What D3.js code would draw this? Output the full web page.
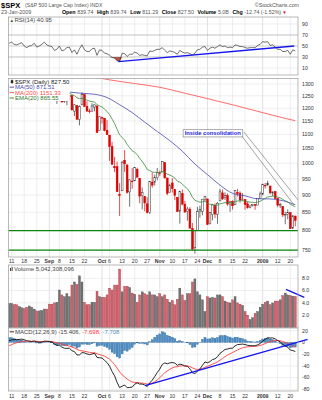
<!DOCTYPE html>
<html>
<head>
<meta charset="utf-8">
<script src="https://cdn.jsdelivr.net/npm/d3@7"></script>
<style>
  body { margin: 0; background: #fff; }
  svg { display: block; font-family: "Liberation Sans", Arial, sans-serif; }
</style>
</head>
<body>
<div id="chart"></div>
<script>
// $SPX daily, 8-Aug-2008 .. 22-Jan-2009, one entry per trading day
const opens = [1266.29,1294.42,1304.79,1288.64,1282.11,1293.85,1298.14,1276.65,1267.34,1271.07,
  1277.59,1290.47,1267.03,1271.29,1283.79,1296.49,1287.83,1276.61,1271.80,1233.21,
  1249.50,1267.98,1227.50,1229.04,1245.88,1250.92,1188.31,1210.34,1157.08,1213.11,
  1255.37,1207.61,1188.79,1187.87,1204.47,1209.07,1113.78,1164.17,1160.64,1115.16,
  1097.56,1057.60,988.91,988.42,902.31,912.75,1009.97,994.60,909.53,942.29,
  943.51,980.40,951.67,899.08,895.22,874.28,848.92,939.51,939.38,953.11,
  968.67,971.31,1001.84,952.40,907.44,936.75,917.15,893.39,853.13,904.36,
  873.23,852.34,859.03,805.87,755.84,801.20,853.40,852.90,886.89,888.61,
  817.94,843.60,869.75,844.43,882.71,906.48,892.17,898.35,871.79,881.07,
  871.53,908.16,905.98,886.96,887.20,874.31,863.87,869.51,872.37,870.58,
  890.59,902.99,929.17,931.17,927.45,905.73,909.91,890.40,869.79,867.28,
  841.99,844.45,849.64,806.77,839.74];
const highs = [1297.85,1313.15,1304.79,1294.03,1300.11,1302.05,1300.22,1276.65,1276.01,1281.40,
  1293.09,1290.47,1275.65,1289.59,1300.68,1297.59,1303.04,1280.60,1271.80,1244.94,
  1274.42,1268.66,1243.90,1249.98,1255.09,1250.92,1214.84,1210.34,1211.14,1265.12,
  1255.37,1227.51,1197.41,1220.03,1215.77,1209.07,1168.03,1167.03,1160.64,1153.82,
  1097.56,1072.91,1021.06,1005.25,936.36,1006.93,1044.31,994.60,947.71,984.64,
  985.40,985.44,951.67,922.83,896.30,893.78,940.51,969.97,963.23,984.38,
  975.57,1007.51,1001.84,952.40,931.46,951.95,917.15,893.39,913.01,916.88,
  882.29,865.90,864.57,820.52,801.20,865.60,868.94,887.68,896.25,888.61,
  850.54,873.12,875.60,879.42,918.57,916.26,908.27,904.63,883.24,884.63,
  914.66,918.85,911.02,905.47,887.37,880.44,869.79,873.74,873.70,891.12,
  910.32,934.73,936.63,943.85,927.45,910.00,911.93,890.40,877.02,867.28,
  851.59,858.13,849.64,841.72,839.74];
const lows = [1262.11,1291.41,1285.64,1274.86,1276.84,1290.74,1274.51,1263.11,1261.16,1265.22,
  1277.59,1264.87,1263.21,1270.36,1283.79,1282.74,1272.20,1265.59,1232.83,1217.23,
  1247.12,1224.51,1221.60,1211.54,1233.81,1192.70,1169.28,1155.88,1133.50,1213.11,
  1205.61,1187.80,1179.79,1187.87,1187.54,1106.39,1113.78,1140.77,1111.43,1098.14,
  1007.97,996.23,970.97,909.19,839.80,912.75,972.07,903.99,865.83,918.74,
  943.51,952.47,875.81,858.44,852.85,846.75,845.27,922.26,928.50,944.59,
  958.82,971.31,949.86,899.73,906.90,907.47,884.90,850.48,818.69,869.88,
  848.98,826.84,806.18,747.78,741.02,801.20,834.99,841.37,881.21,815.69,
  817.94,827.60,833.60,818.41,882.71,885.38,885.45,868.73,851.35,857.72,
  871.53,895.94,877.44,883.02,857.09,860.10,861.44,866.52,857.07,870.58,
  889.67,899.35,919.53,927.28,902.37,896.81,888.31,864.32,862.02,836.93,
  817.04,830.66,804.47,804.30,811.29];
const closes = [1296.32,1305.32,1289.59,1285.83,1292.93,1298.20,1278.60,1266.69,1274.54,1277.72,
  1292.20,1266.84,1271.51,1281.66,1300.68,1282.83,1277.58,1274.98,1236.83,1242.31,
  1267.79,1224.51,1232.04,1249.05,1251.70,1192.70,1213.60,1156.39,1206.51,1255.08,
  1207.09,1188.22,1185.87,1209.18,1213.27,1106.39,1166.36,1161.06,1114.28,1099.23,
  1056.89,996.23,984.94,909.92,899.22,1003.35,998.01,907.84,946.43,940.55,
  985.40,955.05,896.78,908.11,876.77,848.92,940.51,930.09,954.09,968.75,
  966.30,1005.75,952.77,904.88,930.99,919.21,898.95,852.30,911.29,873.29,
  850.75,859.12,806.58,752.44,800.03,851.81,857.39,887.68,896.24,816.21,
  848.81,870.74,845.22,876.07,909.70,888.67,899.24,873.59,879.73,868.57,
  913.18,904.42,885.28,887.88,871.63,863.16,868.15,872.80,869.42,890.64,
  903.25,931.80,927.45,934.70,906.65,909.73,890.35,870.26,871.79,842.62,
  843.74,850.12,805.22,840.24,827.50];
// billions
const volumes = [3.9,3.9,3.7,3.7,3.4,3.2,3.1,3.3,3.5,3.3,
  3.0,2.7,2.7,2.8,3.0,3.0,3.8,3.8,4.0,4.1,
  6.1,5.3,5.0,5.5,5.0,6.9,7.4,7.0,8.4,7.4,
  4.1,3.7,3.7,4.1,4.1,5.9,5.0,4.9,4.9,5.3,
  6.4,6.1,6.9,6.9,9.5,5.8,6.7,6.7,6.5,5.6,
  5.4,4.1,5.3,5.8,5.5,5.3,5.8,5.3,5.3,5.0,
  5.5,5.0,5.3,4.6,4.1,4.4,3.7,4.6,6.4,5.3,
  4.4,5.5,5.5,7.4,7.9,5.8,5.3,4.5,2.6,5.0,
  4.8,4.9,4.8,5.3,5.3,5.0,4.3,4.1,4.0,4.5,
  5.0,4.0,3.8,3.6,2.6,2.0,1.3,1.6,2.3,2.6,
  3.3,3.8,4.1,4.3,3.7,4.0,4.3,4.3,4.5,5.2,
  5.6,5.3,5.2,5.1,5.04];
const rsi14 = [55,57,53,52,54,56,50,47,50,51,
  55,48,50,53,57,52,50,49,42,44,
  50,41,43,47,48,38,43,35,45,52,
  43,40,40,45,46,33,43,42,37,36,
  33,29,28,23,22,37,36,31,35,35,
  39,37,33,34,33,32,41,40,42,44,
  44,47,42,38,41,40,38,35,42,39,
  37,38,36,33.5,37,43,44,48,49,42,
  46,48,46,49,52,49,50,47,48,47,
  52,51,49,49,47,46,47,47,47,51,
  53,58,57,58,51,52,48,44,44,40,
  40,42,35,43,40.95];
const ema20 = [1268.9,1272.4,1274.0,1275.1,1276.8,1278.9,1278.8,1277.7,1277.4,1277.4,
  1278.8,1277.7,1277.1,1277.5,1279.7,1280.0,1279.8,1279.3,1275.3,1272.1,
  1271.7,1267.2,1263.9,1262.5,1261.4,1254.9,1251.0,1242.0,1238.6,1240.2,
  1237.0,1232.4,1227.9,1226.2,1224.9,1213.7,1209.2,1204.6,1196.0,1186.8,
  1174.4,1157.4,1141.0,1119.0,1098.1,1089.1,1080.4,1064.0,1052.8,1042.1,
  1036.7,1028.9,1016.4,1006.0,993.7,980.0,976.2,971.8,970.1,970.0,
  969.6,973.1,971.2,964.8,961.6,957.6,952.0,942.5,939.5,933.2,
  925.4,919.1,908.4,893.5,884.6,881.5,879.2,880.0,881.6,875.3,
  872.8,872.6,870.0,870.6,874.3,875.7,877.9,877.5,877.7,876.8,
  880.3,882.6,882.9,883.3,882.2,880.4,879.2,878.6,877.8,879.0,
  881.3,886.1,890.0,894.3,895.5,896.8,896.2,893.7,891.7,887.0,
  882.9,879.7,872.7,869.6,865.55];
const macdLine = [3.0,4.6,4.9,4.8,5.2,5.8,4.7,2.9,2.1,1.7,
  2.5,1.1,0.4,0.6,2.3,2.2,1.7,1.0,-2.6,-4.9,
  -4.7,-7.9,-9.8,-10.1,-9.8,-14.0,-15.6,-21.2,-21.3,-17.3,
  -17.8,-19.5,-20.8,-19.7,-18.3,-25.5,-26.1,-26.6,-30.5,-34.4,
  -40.4,-49.5,-57.0,-68.2,-77.0,-74.8,-72.6,-77.2,-76.9,-76.2,
  -71.3,-69.0,-71.1,-71.0,-72.6,-75.3,-69.2,-64.5,-58.1,-51.3,
  -45.6,-37.5,-34.9,-36.3,-34.9,-34.3,-35.1,-39.0,-37.0,-38.0,
  -40.1,-40.7,-44.8,-51.9,-53.0,-49.2,-45.2,-39.1,-33.2,-34.6,
  -32.7,-29.1,-28.0,-24.3,-18.5,-15.4,-11.9,-11.2,-9.9,-9.7,
  -5.9,-3.5,-3.2,-2.7,-3.5,-4.8,-5.4,-5.4,-5.6,-4.0,
  -1.7,2.4,5.2,7.9,7.7,7.8,6.1,3.2,1.0,-3.1,
  -6.2,-8.0,-12.9,-13.8,-15.406];
const macdSignal = [-5.5,-3.5,-1.8,-0.5,0.7,1.7,2.3,2.4,2.4,2.2,
  2.3,2.0,1.7,1.5,1.7,1.8,1.8,1.6,0.8,-0.4,
  -1.2,-2.6,-4.0,-5.2,-6.1,-7.7,-9.3,-11.7,-13.6,-14.3,
  -15.0,-15.9,-16.9,-17.5,-17.6,-19.2,-20.6,-21.8,-23.5,-25.7,
  -28.6,-32.8,-37.7,-43.8,-50.4,-55.3,-58.8,-62.4,-65.3,-67.5,
  -68.3,-68.4,-69.0,-69.4,-70.0,-71.1,-70.7,-69.5,-67.2,-64.0,
  -60.3,-55.8,-51.6,-48.5,-45.8,-43.5,-41.8,-41.3,-40.4,-39.9,
  -40.0,-40.1,-41.1,-43.2,-45.2,-46.0,-45.8,-44.5,-42.2,-40.7,
  -39.1,-37.1,-35.3,-33.1,-30.2,-27.2,-24.2,-21.6,-19.2,-17.3,
  -15.0,-12.7,-10.8,-9.2,-8.1,-7.4,-7.0,-6.7,-6.5,-6.0,
  -5.1,-3.6,-1.9,0.1,1.6,2.9,3.5,3.4,3.0,1.7,
  0.2,-1.5,-3.8,-5.8,-7.698];

// slow averages, read at five-day steps
const ma50Day = [0,4,9,14,19,24,29,34,39,44,49,54,59,64,69,74,79,84,89,94,99,104,109,114];
const ma50 = [1292,1290.1,1281.6,1274.9,1268.9,1265.6,1260.4,1256.7,1243.0,1213.8,1182.7,1145.8,
  1110.7,1077.7,1040.5,997.4,963.1,930.0,905.2,897.6,888.9,888.5,883.4,871.51];
const ma200Day = [0,10,20,30,36,40,50,60,70,80,90,100,110,114];
const ma200 = [1372,1365,1356,1342,1326,1318,1302,1286,1261,1236,1211,1185,1160,1151.33];

const tickDays = [1,6,11,16,20,25,30,37,40,45,50,55,60,65,70,75,79,84,89,94,101,107,112];
const tickLabels = ["11","18","25","Sep","8","15","22","Oct","6","13","20","27","Nov","10","17","24","Dec","8","15","22","2009","12","20"];
const monthLabels = ["Sep","Oct","Nov","Dec","2009"];

const rsiTicks = [90,70,50,30,10];
const priceTicks = [1300,1250,1200,1150,1100,1050,1000,950,900,850,800,750];
const volTicks = [8,6,4,2];
const macdTicks = [20,0,-20,-40,-60,-80];

// drawn annotations, in day index / value units
const supportLevels = [800, 750];
const rsiTrend = [[43.5, 21.5], [113.6, 50]];
const volTrend = [[110.3, 6.2], [117.6, 4.9]];
const macdTrend = [[54.1, -73.8], [118.9, 5.5]];
const callout = {day: 69.3, price: 1104, text: "Inside consolidation"};
const calloutPointers = [[[92.35, 1098], [113.5, 870.9]], [[93.55, 1108.9], [115.1, 885.3]]];

const macdHist = macdLine.map((m, i) => m - macdSignal[i]);

const L = 8.5, R = 298;
const red = "#e00000", black = "#333";
const down = i => i > 0 && closes[i] < closes[i - 1];

const svg = d3.select("#chart").append("svg").attr("width", 322).attr("height", 400);

const x = d3.scaleLinear().domain([-0.35, 115.2]).range([8.3, 298.3]);
const yRsi = d3.scaleLinear().domain([10, 90]).range([68, 24]);
const yPrice = d3.scaleLog().domain([750, 1300]).range([250.1, 84]);
const yVol = d3.scaleLinear().domain([0, 8]).range([327.5, 278.3]);
const yMacd = d3.scaleLinear().domain([-80, 20]).range([389.3, 330.8]);

function panel(id, top, bottom, ticks, y, gridColor, fmt) {
  svg.append("rect").attr("x", L).attr("y", top).attr("width", R - L).attr("height", bottom - top).attr("fill", "#fff");
  svg.append("clipPath").attr("id", id).append("rect")
    .attr("x", L).attr("y", top).attr("width", R - L).attr("height", bottom - top);
  let g = svg.append("g");
  g.selectAll("line.v").data(tickDays).enter().append("line").attr("class", "v")
    .attr("x1", d => x(d)).attr("x2", d => x(d)).attr("y1", top).attr("y2", bottom)
    .attr("stroke", (d, i) => monthLabels.includes(tickLabels[i]) ? "#cdcdcd" : "#e3e3e3")
    .attr("stroke-width", 0.6);
  g.selectAll("line.h").data(ticks).enter().append("line").attr("class", "h")
    .attr("x1", L).attr("x2", R).attr("y1", d => y(d)).attr("y2", d => y(d))
    .attr("stroke", gridColor).attr("stroke-width", 0.6);
  svg.append("g").selectAll("text").data(ticks).enter().append("text")
    .attr("x", 302).attr("y", d => y(d)).attr("dy", "0.35em")
    .attr("font-size", 5.2).attr("fill", "#333").text(fmt || (d => d));
  return svg.append("g").attr("clip-path", `url(#${id})`);
}

function border(top, bottom) {
  svg.append("rect").attr("x", L).attr("y", top).attr("width", R - L).attr("height", bottom - top)
    .attr("fill", "none").attr("stroke", "#9a9a9a").attr("stroke-width", 0.7);
}

function trend(pts, y) {
  svg.append("line")
    .attr("x1", x(pts[0][0])).attr("y1", y(pts[0][1]))
    .attr("x2", x(pts[1][0])).attr("y2", y(pts[1][1]))
    .attr("stroke", "#1414f0").attr("stroke-width", 1.3);
}

function dateLabels(yPos) {
  svg.append("g").selectAll("text").data(tickDays).enter().append("text")
    .attr("x", d => x(d)).attr("y", yPos).attr("text-anchor", "middle")
    .attr("font-size", 5.2).attr("fill", "#333")
    .attr("font-weight", (d, i) => monthLabels.includes(tickLabels[i]) ? "bold" : "normal")
    .text((d, i) => tickLabels[i]);
}

// ---- header
svg.append("text").attr("x", 1).attr("y", 7.5).attr("font-size", 7.5).attr("font-weight", "bold").text("$SPX");
svg.append("text").attr("x", 25).attr("y", 7.3).attr("font-size", 5.2).attr("fill", "#555").text("(S&P 500 Large Cap Index) INDX");
svg.append("text").attr("x", 299).attr("y", 6.5).attr("font-size", 5.3).attr("fill", "#555").attr("text-anchor", "end").text("\u00A9StockCharts.com");
svg.append("text").attr("x", 1).attr("y", 14).attr("font-size", 5.4).attr("fill", "#555").text("23-Jan-2009");

let quote = [["Open", "839.74"], ["High", "839.74"], ["Low", "811.29"], ["Close", "827.50"], ["Volume", "5.0B"], ["Chg", "-12.74 (-1.52%)"]];
let qx = 62;
quote.forEach(q => {
  let a = svg.append("text").attr("x", qx).attr("y", 14).attr("font-size", 5.3).attr("font-weight", "bold").text(q[0]);
  qx += a.node().getComputedTextLength() + 1.6;
  let b = svg.append("text").attr("x", qx).attr("y", 14).attr("font-size", 5.3).attr("fill", "#555").text(q[1]);
  qx += b.node().getComputedTextLength() + 3.6;
});
svg.append("text").attr("x", qx - 2.4).attr("y", 14).attr("font-size", 4.5).attr("fill", red).text("\u25BC");

// ---- RSI
let rg = panel("clipRsi", 17, 75, rsiTicks, yRsi, d => (d === 70 || d === 30) ? "#999" : (d === 50 ? "#b0b0b0" : "#e3e3e3"));
rg.append("path").datum(rsi14)
  .attr("d", d3.area().x((d, i) => x(i)).y0(yRsi(30)).y1(d => yRsi(Math.min(d, 30))))
  .attr("fill", "#b0564a");
rg.append("path").datum(rsi14)
  .attr("d", d3.line().x((d, i) => x(i)).y(d => yRsi(d)))
  .attr("fill", "none").attr("stroke", "#333").attr("stroke-width", 0.7);
trend(rsiTrend, yRsi);
border(17, 75);
svg.append("text").attr("x", 9.5).attr("y", 22).attr("font-size", 4.5).attr("fill", "#2d5e2d").text("\u25B2");
svg.append("text").attr("x", 14.5).attr("y", 22).attr("font-size", 6).attr("fill", "#444").text("RSI(14) 40.95");

// ---- price
let pg = panel("clipPrice", 78.5, 257, priceTicks, yPrice, "#e3e3e3");
const bw = 1.8;
pg.selectAll("line.wick").data(closes).enter().append("line").attr("class", "wick")
  .attr("x1", (d, i) => x(i)).attr("x2", (d, i) => x(i))
  .attr("y1", (d, i) => yPrice(highs[i])).attr("y2", (d, i) => yPrice(lows[i]))
  .attr("stroke", (d, i) => down(i) ? red : black).attr("stroke-width", 0.7);
pg.selectAll("rect.body").data(closes).enter().append("rect").attr("class", "body")
  .attr("x", (d, i) => x(i) - bw / 2).attr("width", bw)
  .attr("y", (d, i) => yPrice(Math.max(opens[i], d)))
  .attr("height", (d, i) => Math.max(0.6, Math.abs(yPrice(opens[i]) - yPrice(d))))
  .attr("fill", (d, i) => d < opens[i] ? (down(i) ? red : black) : "#fff")
  .attr("stroke", (d, i) => down(i) ? red : black).attr("stroke-width", 0.5);

pg.append("path").datum(ma200)
  .attr("d", d3.line().x((d, i) => x(ma200Day[i])).y(d => yPrice(d)).curve(d3.curveMonotoneX))
  .attr("fill", "none").attr("stroke", "#ff5b5b").attr("stroke-width", 0.9);
pg.append("path").datum(ma50)
  .attr("d", d3.line().x((d, i) => x(ma50Day[i])).y(d => yPrice(d)).curve(d3.curveMonotoneX))
  .attr("fill", "none").attr("stroke", "#4848b0").attr("stroke-width", 0.8);
pg.append("path").datum(ema20)
  .attr("d", d3.line().x((d, i) => x(i)).y(d => yPrice(d)))
  .attr("fill", "none").attr("stroke", "#3a8a3a").attr("stroke-width", 0.8);

pg.selectAll("line.support").data(supportLevels).enter().append("line").attr("class", "support")
  .attr("x1", L).attr("x2", R).attr("y1", d => yPrice(d)).attr("y2", d => yPrice(d))
  .attr("stroke", "#0a870a").attr("stroke-width", 1.3);

// callout
calloutPointers.forEach(p => {
  svg.append("line")
    .attr("x1", x(p[0][0])).attr("y1", yPrice(p[0][1]))
    .attr("x2", x(p[1][0])).attr("y2", yPrice(p[1][1]))
    .attr("stroke", "#6a6a6a").attr("stroke-width", 0.6);
});
let cg = svg.append("g");
let ct = cg.append("text").attr("x", x(callout.day) + 1.6).attr("y", yPrice(callout.price) + 2)
  .attr("font-size", 5.8).attr("font-weight", "bold").attr("fill", "#2424e0").text(callout.text);
let cb = ct.node().getBBox();
cg.insert("rect", "text").attr("x", cb.x - 1.6).attr("y", cb.y - 0.6)
  .attr("width", cb.width + 3.2).attr("height", cb.height + 1.2)
  .attr("fill", "#fff").attr("stroke", "#777").attr("stroke-width", 0.6);
border(78.5, 257);

// price legend
let lg = svg.append("g");
let legendRows = [
  {t: "$SPX (Daily) 827.50", c: "#222", icon: "candle"},
  {t: "MA(50) 871.51", c: "#4848b0", icon: "line"},
  {t: "MA(200) 1151.33", c: "#ff4a4a", icon: "line"},
  {t: "EMA(20) 865.55", c: "#2e7a2e", icon: "line"}
];
let lbox = lg.append("rect").attr("x", L + 0.4).attr("y", 79).attr("height", 22).attr("fill", "#fff");
let lw = 0;
legendRows.forEach((r, k) => {
  let yy = 83.8 + k * 5.4;
  let t = lg.append("text").attr("x", 15).attr("y", yy).attr("font-size", 6).attr("fill", r.c).text(r.t);
  lw = Math.max(lw, t.node().getComputedTextLength());
  if (r.icon === "line") {
    lg.append("line").attr("x1", 9.6).attr("x2", 14).attr("y1", yy - 2).attr("y2", yy - 2)
      .attr("stroke", r.c).attr("stroke-width", 0.9);
  } else {
    lg.append("line").attr("x1", 12).attr("x2", 12).attr("y1", yy - 4.4).attr("y2", yy + 0.2).attr("stroke", "#222").attr("stroke-width", 0.6);
    lg.append("rect").attr("x", 10.8).attr("y", yy - 3.6).attr("width", 2.4).attr("height", 2.8).attr("fill", "#222");
  }
});
lbox.attr("width", 15 + lw - L);

dateLabels(263);

// ---- volume
let vg = panel("clipVol", 265, 328, volTicks, yVol, "#e3e3e3", d => d.toFixed(1));
vg.selectAll("rect").data(volumes).enter().append("rect")
  .attr("x", (d, i) => x(i) - 1).attr("width", 2)
  .attr("y", d => yVol(d)).attr("height", d => yVol(0) - yVol(d))
  .attr("fill", (d, i) => down(i) ? "#d2646e" : "#747474")
  .attr("stroke", (d, i) => down(i) ? "#a3303c" : "#4a4a4a").attr("stroke-width", 0.35);
trend(volTrend, yVol);
border(265, 328);
svg.append("rect").attr("x", 10).attr("y", 268).attr("width", 1).attr("height", 3).attr("fill", "#444");
svg.append("rect").attr("x", 11.6).attr("y", 266.8).attr("width", 1).attr("height", 4.2).attr("fill", "#444");
svg.append("text").attr("x", 14).attr("y", 271).attr("font-size", 6).attr("fill", "#444").text("Volume 5,042,308,096");

// ---- MACD
let mg = panel("clipMacd", 328, 391, macdTicks, yMacd, "#e3e3e3");
mg.selectAll("rect").data(macdHist).enter().append("rect")
  .attr("x", (d, i) => x(i) - 1).attr("width", 2)
  .attr("y", d => yMacd(Math.max(0, d))).attr("height", d => Math.abs(yMacd(d) - yMacd(0)))
  .attr("fill", "#4b8cc4").attr("stroke", "#2c6496").attr("stroke-width", 0.3);
mg.append("path").datum(macdSignal)
  .attr("d", d3.line().x((d, i) => x(i)).y(d => yMacd(d)))
  .attr("fill", "none").attr("stroke", "#ff3b3b").attr("stroke-width", 0.9);
mg.append("path").datum(macdLine)
  .attr("d", d3.line().x((d, i) => x(i)).y(d => yMacd(d)))
  .attr("fill", "none").attr("stroke", "#111").attr("stroke-width", 0.9);
trend(macdTrend, yMacd);
border(328, 391);
svg.append("line").attr("x1", 9.6).attr("x2", 14).attr("y1", 331.8).attr("y2", 331.8).attr("stroke", "#222").attr("stroke-width", 0.9);
let mt = svg.append("text").attr("x", 15).attr("y", 333.8).attr("font-size", 6).attr("fill", "#444");
mt.append("tspan").text("MACD(12,26,9) -15.406, ");
mt.append("tspan").attr("fill", "#ff3b3b").text("-7.698, ");
mt.append("tspan").attr("fill", "#4b8cc4").text("-7.708");

dateLabels(397.5);
</script>
</body>
</html>
